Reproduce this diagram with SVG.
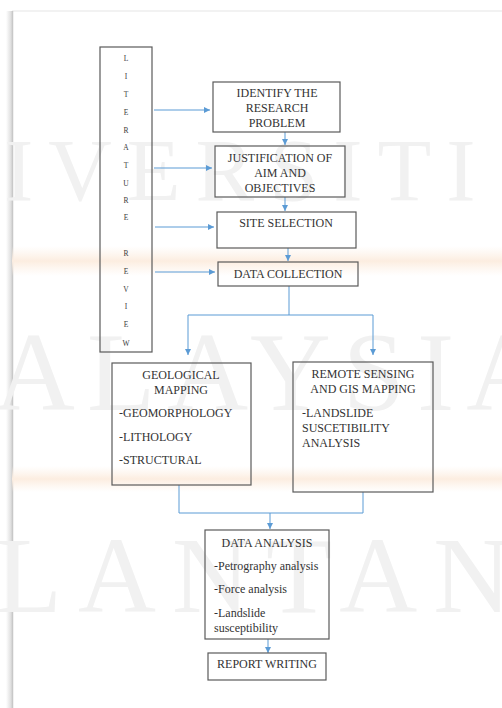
<svg xmlns="http://www.w3.org/2000/svg" width="502" height="708" viewBox="0 0 502 708">
<defs>
<style>
.box{fill:none;stroke:#5a5a5a;stroke-width:1.2}
.t{font-family:"Liberation Serif","Times New Roman",serif;font-size:12px;fill:#333333}
.c{text-anchor:middle}
.lit{font-family:"Liberation Serif","Times New Roman",serif;font-size:7.5px;fill:#3a3a3a;text-anchor:middle}
.wm{font-family:"Liberation Serif","Times New Roman",serif;fill:#f1f1f1}
.ln{fill:none;stroke:#5b9bd5;stroke-width:1}
.ar{fill:none;stroke:#5b9bd5;stroke-width:1;marker-end:url(#ah)}
</style>
<marker id="ah" viewBox="0 0 10 10" refX="10" refY="5" markerWidth="6" markerHeight="6" markerUnits="userSpaceOnUse" orient="auto">
<path d="M0,0 L10,5 L0,10 z" fill="#5b9bd5"/>
</marker>
<linearGradient id="band" x1="0" y1="0" x2="0" y2="1">
<stop offset="0" stop-color="#fdf1e6" stop-opacity="0"/>
<stop offset="0.5" stop-color="#fcede0" stop-opacity="1"/>
<stop offset="1" stop-color="#fdf1e6" stop-opacity="0"/>
</linearGradient>
<linearGradient id="shadow" x1="0" y1="0" x2="1" y2="0">
<stop offset="0" stop-color="#ffffff"/>
<stop offset="1" stop-color="#d8d8d8"/>
</linearGradient>
</defs>
<rect width="502" height="708" fill="#ffffff"/>
<g id="page">
<rect x="6" y="11" width="6" height="697" fill="url(#shadow)"/>
<rect x="12" y="11" width="490" height="697" fill="#ffffff"/>
<line x1="12" y1="11" x2="502" y2="11" stroke="#eeeeee" stroke-width="1.5"/>
<line x1="12.5" y1="11" x2="12.5" y2="708" stroke="#c8c8c8" stroke-width="1.5"/>
<rect x="12" y="246" width="490" height="30" fill="url(#band)"/>
<rect x="12" y="466" width="490" height="26" fill="url(#band)"/>
<text class="wm" x="4" y="200" font-size="88" letter-spacing="15">IVERSITI</text>
<text class="wm" x="-6" y="410" font-size="112" letter-spacing="12">ALAYSIA</text>
<text class="wm" x="-4" y="612" font-size="108" letter-spacing="16">LANTAN</text>
</g>
<g id="connectors">
<line class="ar" x1="154" y1="110" x2="210" y2="110"/>
<line class="ar" x1="154" y1="168" x2="212" y2="168"/>
<line class="ar" x1="155" y1="227" x2="214" y2="227"/>
<line class="ar" x1="155" y1="272" x2="215" y2="272"/>
<line class="ar" x1="285" y1="132" x2="285" y2="145"/>
<line class="ar" x1="285" y1="197" x2="285" y2="211"/>
<line class="ar" x1="288" y1="248" x2="288" y2="261"/>
<line class="ln" x1="289" y1="286" x2="289" y2="315"/>
<line class="ln" x1="188" y1="315" x2="373" y2="315"/>
<line class="ar" x1="188" y1="315" x2="188" y2="355"/>
<line class="ar" x1="373" y1="315" x2="373" y2="355"/>
<polyline class="ln" points="179,485 179,513 363,513 363,492"/>
<line class="ar" x1="270" y1="513" x2="270" y2="529"/>
<line class="ar" x1="268" y1="639" x2="268" y2="653"/>
</g>
<g id="literature-review">
<rect class="box" x="100" y="47" width="52" height="305"/>
<text class="lit" x="126" y="60.5">L</text>
<text class="lit" x="126" y="78.5">I</text>
<text class="lit" x="126" y="96.5">T</text>
<text class="lit" x="126" y="114.5">E</text>
<text class="lit" x="126" y="132.5">R</text>
<text class="lit" x="126" y="149.5">A</text>
<text class="lit" x="126" y="167.5">T</text>
<text class="lit" x="126" y="186">U</text>
<text class="lit" x="126" y="202.5">R</text>
<text class="lit" x="126" y="219.5">E</text>
<text class="lit" x="126" y="255.5">R</text>
<text class="lit" x="126" y="273.5">E</text>
<text class="lit" x="126" y="291.5">V</text>
<text class="lit" x="126" y="308.5">I</text>
<text class="lit" x="126" y="326.5">E</text>
<text class="lit" x="126" y="345.5">W</text>
</g>
<g id="identify">
<rect class="box" x="213" y="82" width="127" height="50"/>
<text class="t c" x="277" y="97">IDENTIFY THE</text>
<text class="t c" x="277" y="112">RESEARCH</text>
<text class="t c" x="277" y="127">PROBLEM</text>
</g>
<g id="justification">
<rect class="box" x="215" y="146" width="130" height="51"/>
<text class="t c" x="280" y="162">JUSTIFICATION OF</text>
<text class="t c" x="280" y="177">AIM AND</text>
<text class="t c" x="280" y="192">OBJECTIVES</text>
</g>
<g id="site-selection">
<rect class="box" x="217" y="212" width="139" height="36"/>
<text class="t c" x="286" y="227">SITE SELECTION</text>
</g>
<g id="data-collection">
<rect class="box" x="218" y="262" width="140" height="24"/>
<text class="t c" x="288" y="278">DATA COLLECTION</text>
</g>
<g id="geological-mapping">
<rect class="box" x="112" y="363" width="139" height="122"/>
<text class="t c" x="181" y="379">GEOLOGICAL</text>
<text class="t c" x="181" y="394">MAPPING</text>
<text class="t" x="119" y="417">-GEOMORPHOLOGY</text>
<text class="t" x="119" y="441">-LITHOLOGY</text>
<text class="t" x="119" y="464">-STRUCTURAL</text>
</g>
<g id="remote-sensing">
<rect class="box" x="293" y="362" width="140" height="130"/>
<text class="t c" x="363" y="378">REMOTE SENSING</text>
<text class="t c" x="363" y="393">AND GIS MAPPING</text>
<text class="t" x="302" y="417">-LANDSLIDE</text>
<text class="t" x="302" y="432">SUSCETIBILITY</text>
<text class="t" x="302" y="447">ANALYSIS</text>
</g>
<g id="data-analysis">
<rect class="box" x="205" y="530" width="124" height="109"/>
<text class="t c" x="267" y="547">DATA ANALYSIS</text>
<text class="t" x="214" y="570">-Petrography analysis</text>
<text class="t" x="214" y="593">-Force analysis</text>
<text class="t" x="214" y="617">-Landslide</text>
<text class="t" x="214" y="632">susceptibility</text>
</g>
<g id="report-writing">
<rect class="box" x="208" y="653" width="118" height="27"/>
<text class="t c" x="267" y="668">REPORT WRITING</text>
</g>
</svg>
